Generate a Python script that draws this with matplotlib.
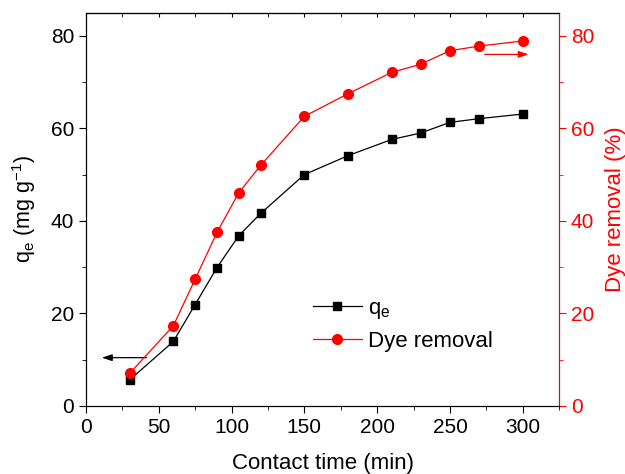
import numpy as np
import matplotlib
matplotlib.use("Agg")
import matplotlib.pyplot as plt
from matplotlib.ticker import MultipleLocator

plt.rcParams['font.family'] = ['Liberation Sans', 'DejaVu Sans']
plt.rcParams['mathtext.default'] = 'regular'

# data
time = [30, 60, 75, 90, 105, 120, 150, 180, 210, 230, 250, 270, 300]
qe = [5.6, 13.9, 21.9, 29.9, 36.8, 41.6, 50.0, 54.1, 57.6, 59.0, 61.3, 62.1, 63.1]
removal = [7.0, 17.3, 27.4, 37.5, 46.1, 52.0, 62.6, 67.5, 72.1, 73.9, 76.8, 77.8, 78.9]

fig = plt.figure(figsize=(6.25, 4.74), dpi=100)
ax = fig.add_axes([0.1376, 0.144, 0.757, 0.829])
ax2 = ax.twinx()

l1, = ax.plot(time, qe, '-s', color='black', lw=0.9, ms=6, label='q$_e$')
l2, = ax2.plot(time, removal, '-o', color='red', lw=0.9, ms=7, label='Dye removal')

ax.set_xlim(0, 325)
ax.set_ylim(0, 85)
ax2.set_ylim(0, 85)

ax.xaxis.set_major_locator(MultipleLocator(50))
ax.xaxis.set_minor_locator(MultipleLocator(25))
ax.yaxis.set_major_locator(MultipleLocator(20))
ax.yaxis.set_minor_locator(MultipleLocator(10))
ax2.yaxis.set_major_locator(MultipleLocator(20))
ax2.yaxis.set_minor_locator(MultipleLocator(10))

ax.tick_params(axis='both', which='major', direction='out', length=5, labelsize=15)
ax.tick_params(axis='both', which='minor', direction='out', length=3)
ax.tick_params(axis='y', which='both', right=False)

# inward ticks on the top spine, no labels
top = ax.secondary_xaxis('top')
top.xaxis.set_major_locator(MultipleLocator(50))
top.xaxis.set_minor_locator(MultipleLocator(25))
top.tick_params(axis='x', which='both', direction='in', length=3, labeltop=False)

ax2.tick_params(axis='y', which='major', direction='out', length=5, labelsize=15,
                colors='red')
ax2.tick_params(axis='y', which='minor', direction='out', length=3, colors='red')
ax2.spines['right'].set_color('red')

ax.set_xlabel('Contact time (min)', fontsize=16, labelpad=12)
ax.set_ylabel('q$_e$ (mg g$^{-1}$)', fontsize=15.5, labelpad=9)
ax2.set_ylabel('Dye removal (%)', fontsize=16, color='red', labelpad=8)

ax.annotate('', xy=(9, 10.4), xytext=(43.5, 10.4),
            arrowprops=dict(arrowstyle='-|>,head_length=0.6,head_width=0.2',
                            color='black', lw=0.9))
ax2.annotate('', xy=(306, 76), xytext=(272, 76),
             arrowprops=dict(arrowstyle='-|>,head_length=0.6,head_width=0.2',
                             color='red', lw=0.9))

ax2.legend([l1, l2], ['q$_e$', 'Dye removal'], loc='center left',
           bbox_to_anchor=(0.437, 0.205), frameon=False, fontsize=16,
           handlelength=2.2, labelspacing=0.45, handletextpad=0.3)

fig.savefig('out.png', dpi=100)
